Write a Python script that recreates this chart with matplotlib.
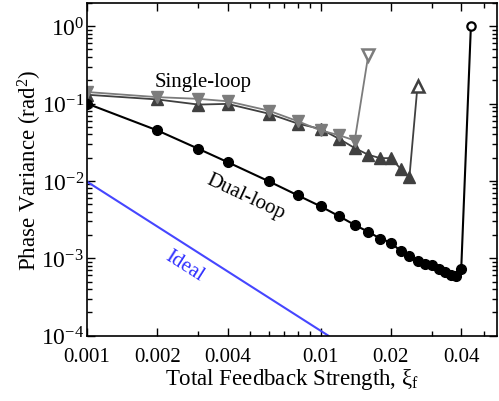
import matplotlib
matplotlib.use('Agg')
import matplotlib.pyplot as plt
import matplotlib.ticker as mticker
import numpy as np

plt.rcParams['font.family'] = 'Liberation Serif'
plt.rcParams['mathtext.fontset'] = 'custom'
plt.rcParams['mathtext.rm'] = 'Liberation Serif'
plt.rcParams['mathtext.it'] = 'Liberation Serif:italic'

# dual-loop data
dual_x = [0.001, 0.002, 0.003, 0.004, 0.006, 0.008, 0.010, 0.012, 0.014, 0.016, 0.018,
          0.020, 0.022, 0.024, 0.026, 0.028, 0.030, 0.032, 0.034, 0.036, 0.038, 0.040]
dual_y = [0.1, 0.045, 0.026, 0.0175, 0.0099, 0.0065, 0.0047, 0.0035, 0.0027, 0.0022, 0.0018,
          0.0016, 0.00124, 0.00106, 0.00092, 0.00085, 0.00083, 0.00073, 0.00067, 0.00061,
          0.00059, 0.00073]
dual_fail_x = [0.040, 0.044]
dual_fail_y = [0.00073, 1.0]

# single-loop (up triangles, dark)
sup_x = [0.001, 0.002, 0.003, 0.004, 0.006, 0.008, 0.010, 0.012, 0.014, 0.016, 0.018,
         0.020, 0.022, 0.024]
sup_y = [0.13, 0.113, 0.097, 0.099, 0.074, 0.055, 0.047, 0.035, 0.0266, 0.0218, 0.0197,
         0.0197, 0.0144, 0.0112]
sup_fail_x = [0.024, 0.026]
sup_fail_y = [0.0112, 0.17]

# single-loop (down triangles, light)
sdn_x = [0.001, 0.002, 0.003, 0.004, 0.006, 0.008, 0.010, 0.012, 0.014]
sdn_y = [0.141, 0.121, 0.115, 0.107, 0.081, 0.059, 0.045, 0.039, 0.0333]
sdn_fail_x = [0.014, 0.016]
sdn_fail_y = [0.0333, 0.42]

# ideal line
ideal_x = [0.001, 0.0108]
ideal_y = [0.0098, 0.0001]

dark = '#404040'
light = '#7c7c7c'

fig = plt.figure(figsize=(4.99, 4.02), dpi=100)
ax = fig.add_axes([0.1743, 0.1624, 0.822, 0.828])

ax.plot(ideal_x, ideal_y, color='#4646ff', lw=1.5)

ax.plot(sup_fail_x, sup_fail_y, color=dark, lw=1.3)
ax.plot(sup_fail_x[1:], sup_fail_y[1:], '^', ms=8, mfc='white', mec=dark, mew=1.8)
ax.plot(sup_x, sup_y, '-^', color=dark, lw=1.3, ms=8)

ax.plot(sdn_fail_x, sdn_fail_y, color=light, lw=1.3)
ax.plot(sdn_fail_x[1:], sdn_fail_y[1:], 'v', ms=8, mfc='white', mec=light, mew=1.8)
ax.plot(sdn_x, sdn_y, '-v', color=light, lw=1.3, ms=8)

ax.plot(dual_fail_x, dual_fail_y, color='black', lw=1.5)
ax.plot(dual_fail_x[1:], dual_fail_y[1:], 'o', ms=6, mfc='white', mec='black', mew=1.6)
ax.plot(dual_x, dual_y, '-o', color='black', lw=1.5, ms=7)

ax.set_xscale('log')
ax.set_yscale('log')
ax.set_xlim(0.001, 0.057)
ax.set_ylim(1e-4, 2)

xt = [0.001, 0.002, 0.004, 0.01, 0.02, 0.04]
ax.xaxis.set_major_locator(mticker.FixedLocator(xt))
ax.xaxis.set_major_formatter(mticker.FixedFormatter(['0.001', '0.002', '0.004', '0.01', '0.02', '0.04']))
minor_x = [0.003, 0.005, 0.006, 0.007, 0.008, 0.009, 0.03, 0.05]
ax.xaxis.set_minor_locator(mticker.FixedLocator(minor_x))
ax.xaxis.set_minor_formatter(mticker.NullFormatter())

ax.yaxis.set_major_locator(mticker.LogLocator(base=10, numticks=10))
ax.yaxis.set_major_formatter(mticker.LogFormatterMathtext())
ax.yaxis.set_minor_locator(mticker.LogLocator(base=10, subs=np.arange(2, 10), numticks=20))
ax.yaxis.set_minor_formatter(mticker.NullFormatter())

ax.tick_params(which='both', direction='in', top=True, right=True, width=1)
ax.tick_params(axis='x', labelsize=15, pad=8)
ax.tick_params(axis='y', labelsize=17, pad=2)
ax.tick_params(which='major', length=6)
ax.tick_params(which='minor', length=3.5)
for s in ax.spines.values():
    s.set_linewidth(1.2)

ax.set_xlabel(r'Total Feedback Strength, $\mathrm{\xi_f}$', fontsize=16.5, labelpad=0)
ax.set_ylabel(r'Phase Variance (rad$^2$)', fontsize=16.5, labelpad=-2)

ax.text(0.00313, 0.19, 'Single-loop', fontsize=15, ha='center', va='center')
ax.text(0.0048, 0.0064, 'Dual-loop', fontsize=15, ha='center', va='center', rotation=-25)
ax.text(0.0026, 0.0008, 'Ideal', fontsize=15, ha='center', va='center', rotation=-32.5,
        color='#3030ff')

fig.savefig('out.png', dpi=100)
